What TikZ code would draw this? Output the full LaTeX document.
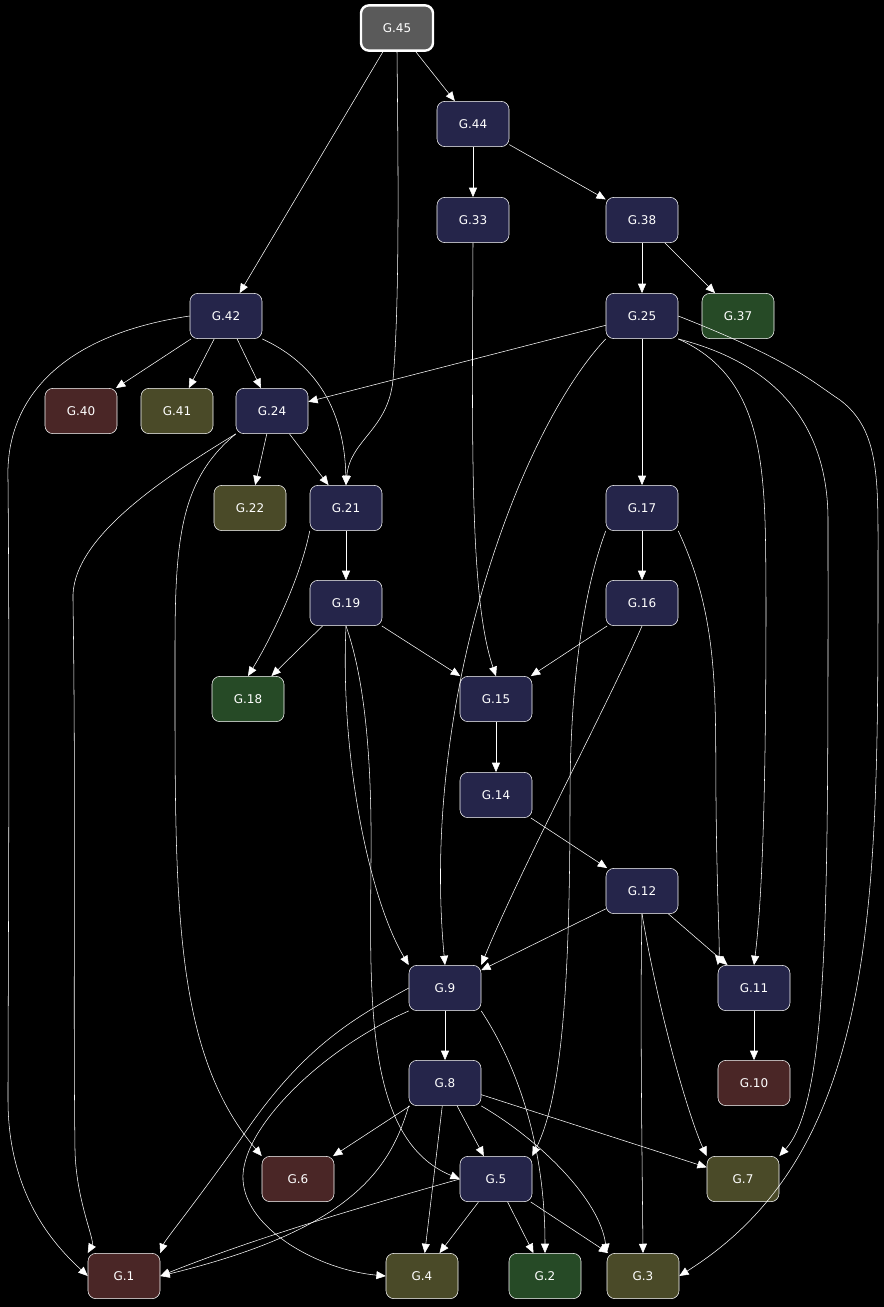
\documentclass[tikz,border=0pt]{standalone}
\usepackage{fontspec}
\setmainfont{DejaVu Sans}
\definecolor{navy}{HTML}{25254A}
\definecolor{rust}{HTML}{4A2626}
\definecolor{olive}{HTML}{4A4A28}
\definecolor{moss}{HTML}{264A26}
\definecolor{slate}{HTML}{5A5A5A}
\usetikzlibrary{arrows.meta, positioning}

\begin{document}
\begin{tikzpicture}[
  x=0.75pt, y=-0.75pt,
  box/.style={draw=white, rounded corners=6pt, minimum width=54pt, minimum height=34pt, font=\small, text=white, fill=navy},
  leaf/.style={box, fill=#1},
  edge/.style={draw=white, -{Triangle[length=7pt, width=6pt]}},
]
\fill[black] (0,0) rectangle (884,1307);

\node[box, fill=slate, line width=1.8pt] (g45) at (397,28) {G.45};
\node[box] (g44) at (473,124) {G.44};
\node[box] (g33) at (473,220) {G.33};
\node[box] (g38) at (642,220) {G.38};
\node[box] (g42) at (226,316) {G.42};
\node[box] (g25) at (642,316) {G.25};
\node[leaf=moss] (g37) at (738,316) {G.37};
\node[leaf=rust] (g40) at (81,411) {G.40};
\node[leaf=olive] (g41) at (177,411) {G.41};
\node[box] (g24) at (272,411) {G.24};
\node[leaf=olive] (g22) at (250,508) {G.22};
\node[box] (g21) at (346,508) {G.21};
\node[box] (g17) at (642,508) {G.17};
\node[box] (g19) at (346,603) {G.19};
\node[box] (g16) at (642,603) {G.16};
\node[leaf=moss] (g18) at (248,699) {G.18};
\node[box] (g15) at (496,699) {G.15};
\node[box] (g14) at (496,795) {G.14};
\node[box] (g12) at (642,891) {G.12};
\node[box] (g9) at (445,988) {G.9};
\node[box] (g11) at (754,988) {G.11};
\node[box] (g8) at (445,1083) {G.8};
\node[leaf=rust] (g10) at (754,1083) {G.10};
\node[leaf=rust] (g6) at (298,1179) {G.6};
\node[box] (g5) at (496,1179) {G.5};
\node[leaf=olive] (g7) at (743,1179) {G.7};
\node[leaf=rust] (g1) at (124,1276) {G.1};
\node[leaf=olive] (g4) at (422,1276) {G.4};
\node[leaf=moss] (g2) at (545,1276) {G.2};
\node[leaf=olive] (g3) at (643,1276) {G.3};

% top
\draw[edge] (g45) -- (g42);
\draw[edge] (g45.south) .. controls (398,150) and (400,300) .. (393,380) .. controls (388,430) and (350,440) .. (g21.north);
\draw[edge] (g45) -- (g44);
\draw[edge] (g44) -- (g33);
\draw[edge] (g44) -- (g38);
\draw[edge] (g38) -- (g25);
\draw[edge] (g38) -- (g37);
\draw[edge] (g33.south) .. controls (472,450) and (470,600) .. (g15.north);

% G.42
\draw[edge] (g42) -- (g40);
\draw[edge] (g42) -- (g41);
\draw[edge] (g42) -- (g24);
\draw[edge] (g42.south east) .. controls (330,370) and (345,430) .. (g21.north);
\draw[edge] (g42.west) .. controls (60,335) and (5,400) .. (8,480) .. controls (10,700) and (8,1000) .. (8,1100) .. controls (8,1200) and (60,1250) .. (g1.west);

% G.25
\draw[edge] (g25) -- (g24);
\draw[edge] (g25.south west) .. controls (520,430) and (420,700) .. (g9.north);
\draw[edge] (g25) -- (g17);
\draw[edge] (g25.south east) .. controls (770,380) and (765,480) .. (766,600) .. controls (766,800) and (762,900) .. (g11.north);
\draw[edge] (g25.south east) .. controls (800,370) and (828,450) .. (828,520) .. controls (828,900) and (830,1100) .. (g7.north east);
\draw[edge] (g25.east) .. controls (790,360) and (810,380) .. (840,400) .. controls (880,430) and (878,480) .. (878,560) .. controls (878,900) and (880,1150) .. (g3.east);

% G.24
\draw[edge] (g24) -- (g22);
\draw[edge] (g24) -- (g21);
\draw[edge] (g24.south west) .. controls (160,480) and (70,540) .. (73,600) .. controls (76,800) and (73,1000) .. (75,1150) .. controls (76,1200) and (95,1240) .. (g1.north west);
\draw[edge] (g24.south west) .. controls (180,480) and (175,540) .. (175,650) .. controls (175,900) and (172,1050) .. (g6.north west);

% G.21, G.17, G.19, G.16
\draw[edge] (g21) -- (g19);
\draw[edge] (g21.south west) .. controls (300,580) and (270,640) .. (g18.north);
\draw[edge] (g17) -- (g16);
\draw[edge] (g17.south west) .. controls (580,600) and (570,700) .. (570,800) .. controls (570,1000) and (560,1100) .. (g5.north east);
\draw[edge] (g17.south east) .. controls (720,620) and (715,700) .. (716,800) .. controls (717,900) and (720,950) .. (g11.north west);
\draw[edge] (g19) -- (g18);
\draw[edge] (g19) -- (g15);
\draw[edge] (g19.south) .. controls (340,760) and (370,900) .. (g9.north west);
\draw[edge] (g19.south) .. controls (365,680) and (372,760) .. (371,860) .. controls (370,1000) and (365,1140) .. (g5.west);
\draw[edge] (g16) -- (g15);
\draw[edge] (g16.south) .. controls (610,700) and (520,870) .. (g9.north east);
\draw[edge] (g15) -- (g14);
\draw[edge] (g14) -- (g12);

% G.12, G.9, G.11
\draw[edge] (g12) -- (g9);
\draw[edge] (g12) -- (g11);
\draw[edge] (g12.south) .. controls (640,1000) and (642,1150) .. (g3.north);
\draw[edge] (g12.south) .. controls (660,1020) and (690,1120) .. (g7.north west);
\draw[edge] (g9) -- (g8);
\draw[edge] (g9.west) .. controls (350,1020) and (300,1050) .. (240,1140) .. controls (190,1210) and (165,1240) .. (g1.north east);
\draw[edge] (g9.south west) .. controls (320,1050) and (240,1130) .. (243,1180) .. controls (246,1230) and (320,1270) .. (g4.west);
\draw[edge] (g9.south east) .. controls (520,1070) and (545,1150) .. (g2.north);
\draw[edge] (g11) -- (g10);

% G.8
\draw[edge] (g8) -- (g6);
\draw[edge] (g8) -- (g5);
\draw[edge] (g8) -- (g7);
\draw[edge] (g8.south east) .. controls (540,1140) and (600,1200) .. (g3.north west);
\draw[edge] (g8) -- (g4);
\draw[edge] (g8.south west) .. controls (390,1170) and (350,1230) .. (g1.east);

% G.5
\draw[edge] (g5.west) .. controls (350,1210) and (250,1240) .. (g1.east);
\draw[edge] (g5) -- (g4);
\draw[edge] (g5) -- (g2);
\draw[edge] (g5) -- (g3);
\end{tikzpicture}
\end{document}
